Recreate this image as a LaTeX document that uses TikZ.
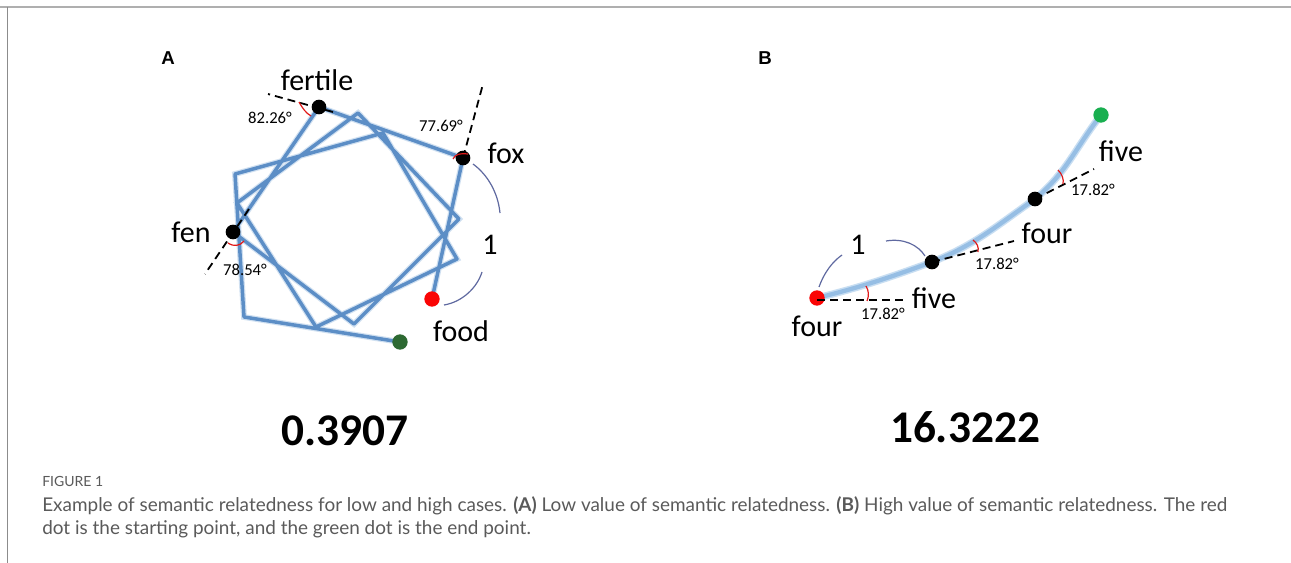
\documentclass[tikz,border=0pt]{standalone}
\usepackage{fontspec}
\setmainfont{Carlito}
\newfontfamily\capfont{Lato}
\newfontfamily\panelfont{Liberation Sans}
\usetikzlibrary{backgrounds}
\definecolor{lineA}{RGB}{92,142,198}
\definecolor{glowA}{RGB}{170,200,230}
\definecolor{lineB}{RGB}{150,190,228}
\definecolor{glowB}{RGB}{200,222,242}
\definecolor{arcred}{RGB}{225,25,25}
\definecolor{onearc}{RGB}{95,105,160}
\definecolor{dotred}{RGB}{250,5,5}
\definecolor{dotgreenA}{RGB}{45,105,50}
\definecolor{dotgreenB}{RGB}{25,175,80}
\definecolor{capgray}{RGB}{90,90,90}
\definecolor{framegray}{RGB}{175,175,175}
\definecolor{leftgray}{RGB}{140,140,140}
\begin{document}
\begin{tikzpicture}[x=0.75pt,y=-0.75pt,
  blackdot/.style={circle,fill=black,inner sep=0pt,minimum size=11pt},
  reddot/.style={circle,fill=dotred,inner sep=0pt,minimum size=11.5pt},
  greenAdot/.style={circle,fill=dotgreenA,inner sep=0pt,minimum size=11.5pt},
  greenBdot/.style={circle,fill=dotgreenB,inner sep=0pt,minimum size=11.5pt},
  blueA/.style={draw=lineA,line width=2.6pt,line join=round,line cap=round,
     preaction={draw=glowA,line width=4.4pt,opacity=0.55}},
  blueB/.style={draw=lineB,line width=3.2pt,line cap=round,
     preaction={draw=glowB,line width=5.4pt}},
  dashline/.style={black,line width=1.35pt,dash pattern=on 6pt off 3.8pt},
  redarc/.style={draw=arcred,line width=0.9pt},
  onestyle/.style={draw=onearc,line width=0.9pt},
  word/.style={inner sep=0pt,font=\fontsize{22.5}{26}\selectfont},
  anglbl/.style={inner sep=0pt,font=\fontsize{12.5}{15}\selectfont},
  bignum/.style={inner sep=0pt,font=\fontsize{34}{40}\selectfont\bfseries},
  panel/.style={inner sep=0pt,font=\panelfont\bfseries\fontsize{14}{16}\selectfont},
  captxt/.style={inner sep=0pt,anchor=base west,text=capgray,font=\capfont\fontsize{14.2}{17}\selectfont}
]
\useasboundingbox (0,0) rectangle (1291,563);
\begin{scope}[on background layer]
\fill[white] (0,0) rectangle (1291,563);
\end{scope}
\draw[framegray,line width=1.4pt] (0,7) -- (1291,7);
\draw[leftgray,line width=0.8pt] (7.5,7) -- (7.5,563);

% ---------------- Panel A ----------------
\node[panel] (labA) at (168,58) {A};
\node[blackdot] (fox) at (463,158) {};
\node[blackdot] (fertile) at (319,107) {};
\node[blackdot] (fen) at (233,232) {};
\node[reddot] (food) at (432,299) {};
\node[greenAdot] (endA) at (400,342) {};
\coordinate (a1) at (354,324);
\coordinate (a2) at (459,219);
\coordinate (a3) at (358,113);
\coordinate (a4) at (237,203);
\coordinate (a5) at (316,327);
\coordinate (a6) at (457,259);
\coordinate (a7) at (383,133);
\coordinate (a8) at (235,174);
\coordinate (a9) at (244,317);
\begin{scope}[on background layer]
\draw[blueA] (food.center) -- (fox.center) -- (fertile.center) -- (fen.center) -- (a1) -- (a2) -- (a3) -- (a4) -- (a5) -- (a6) -- (a7) -- (a8) -- (a9) -- (endA.center);
\end{scope}
% dashed extension lines
\coordinate (dfertL) at (268,94);
\coordinate (dfertR) at (333,112);
\draw[dashline] (dfertR) -- (dfertL);
\coordinate (dfoxU) at (483,84);
\draw[dashline] (fox.center) -- (dfoxU);
\coordinate (dfenU) at (249,209);
\coordinate (dfenD) at (205,274);
\draw[dashline] (dfenU) -- (dfenD);
% red angle arcs
\coordinate (rf1) at (299,102);
\coordinate (rf2) at (311,116);
\draw[redarc] (rf1) .. controls (303,109) and (306,113) .. (rf2);
\coordinate (rx1) at (453,159);
\coordinate (rx2) at (468,154);
\draw[redarc] (rx1) .. controls (455,154) and (461,153) .. (rx2);
\coordinate (rn1) at (228,243);
\coordinate (rn2) at (244,241);
\draw[redarc] (rn1) .. controls (234,247) and (240,246) .. (rn2);
% distance arc "1"
\coordinate (oa1) at (473,164);
\coordinate (oa2) at (500,213);
\draw[onestyle] (oa1) .. controls (488,175) and (498,193) .. (oa2);
\coordinate (ob1) at (482,272);
\coordinate (ob2) at (444,305);
\draw[onestyle] (ob1) .. controls (477,288) and (462,302) .. (ob2);
% labels
\node[word] (tfertile) at (317,80) {fertile};
\node[anglbl] (tang1) at (270,118) {82.26°};
\node[anglbl] (tang2) at (441,126) {77.69°};
\node[word] (tfox) at (506,153) {fox};
\node[word] (tfen) at (191,232) {fen};
\node[anglbl] (tang3) at (245,270) {78.54°};
\node[word] (tone) at (490,245) {1};
\node[word] (tfood) at (461,331) {food};
\node[bignum] (numA) at (345,431) {0.3907};

% ---------------- Panel B ----------------
\node[panel] (labB) at (765,58) {B};
\node[reddot] (startB) at (817,298) {};
\node[blackdot] (b1) at (932,262) {};
\node[blackdot] (b2) at (1035,199) {};
\node[greenBdot] (endB) at (1101,115) {};
\begin{scope}[on background layer]
\draw[blueB] (startB.center) to[out=14,in=200] (b1.center) to[out=22,in=215] (b2.center) to[out=40,in=232] (endB.center);
\end{scope}
\coordinate (dB0) at (904,300);
\draw[dashline] (startB.center) ++(0,2) -- (dB0);
\coordinate (dB1) at (1014,241);
\draw[dashline] (b1.center) -- (dB1);
\coordinate (dB2) at (1094,169);
\draw[dashline] (b2.center) -- (dB2);
\coordinate (rb1a) at (866,286);
\coordinate (rb1b) at (867,301);
\draw[redarc] (rb1a) .. controls (869,291) and (869,296) .. (rb1b);
\coordinate (rb2a) at (973,240);
\coordinate (rb2b) at (978,252);
\draw[redarc] (rb2a) .. controls (977,243) and (979,247) .. (rb2b);
\coordinate (rb3a) at (1058,170);
\coordinate (rb3b) at (1063,184);
\draw[redarc] (rb3a) .. controls (1062,174) and (1064,179) .. (rb3b);
\coordinate (obB1) at (819,287);
\coordinate (obB2) at (842,255);
\draw[onestyle] (obB1) .. controls (824,273) and (832,262) .. (obB2);
\coordinate (obB3) at (886,241);
\coordinate (obB4) at (925,256);
\draw[onestyle] (obB3) .. controls (904,238) and (918,245) .. (obB4);
\node[word] (tfive1) at (1121,151) {five};
\node[anglbl] (tangB1) at (1093,190) {17.82°};
\node[word] (tfour1) at (1047,233) {four};
\node[anglbl] (tangB2) at (997,264) {17.82°};
\node[word] (toneB) at (858,245) {1};
\node[word] (tfive2) at (934,298) {five};
\node[anglbl] (tangB3) at (883,314) {17.82°};
\node[word] (tfour2) at (817,326) {four};
\node[bignum] (numB) at (965,427) {16.3222};

% ---------------- Caption ----------------
\node[captxt,font=\capfont\fontsize{10.5}{13}\selectfont] (figlbl) at (42,486) {FIGURE 1};
\node[captxt] (cap1) at (42,511) {Example of semantic relatedness for low and high cases. \textbf{(A)} Low value of semantic relatedness. \textbf{(B)} High value of semantic relatedness. The red};
\node[captxt] (cap2) at (42,534) {dot is the starting point, and the green dot is the end point.};
\end{tikzpicture}
\end{document}
